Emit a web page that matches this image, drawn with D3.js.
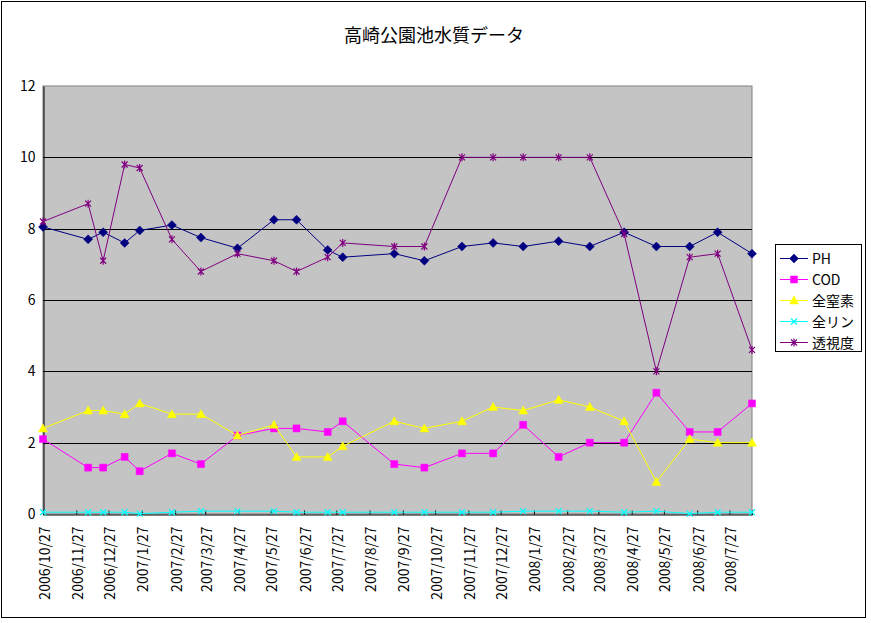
<!DOCTYPE html>
<html lang="ja">
<head>
<meta charset="UTF-8">
<title>高崎公園池水質データ</title>
<script src="https://cdnjs.cloudflare.com/ajax/libs/d3/7.8.2/d3.min.js"></script>
<style>
    body { margin: 0; background: #fff; }
    svg { display: block; }
    text { font-family: "Noto Sans CJK JP", "DejaVu Sans", sans-serif; fill: #000; }
</style>
</head>
<body>
<div id="chart"></div>
<script>
    // measurement dates
    const dates = [
        "2006/10/27", "2006/12/8", "2006/12/22", "2007/1/11", "2007/1/25", "2007/2/24",
        "2007/3/23", "2007/4/26", "2007/5/30", "2007/6/20", "2007/7/19", "2007/8/2",
        "2007/9/19", "2007/10/17", "2007/11/21", "2007/12/20", "2008/1/17", "2008/2/19",
        "2008/3/19", "2008/4/20", "2008/5/20", "2008/6/20", "2008/7/16", "2008/8/17"
    ];
    const ph    = [8.05, 7.7, 7.9, 7.6, 7.95, 8.1, 7.75, 7.45, 8.25, 8.25, 7.4, 7.2,
                   7.3, 7.1, 7.5, 7.6, 7.5, 7.65, 7.5, 7.9, 7.5, 7.5, 7.9, 7.3];
    const cod   = [2.1, 1.3, 1.3, 1.6, 1.2, 1.7, 1.4, 2.2, 2.4, 2.4, 2.3, 2.6,
                   1.4, 1.3, 1.7, 1.7, 2.5, 1.6, 2.0, 2.0, 3.4, 2.3, 2.3, 3.1];
    const tn    = [2.4, 2.9, 2.9, 2.8, 3.1, 2.8, 2.8, 2.2, 2.5, 1.6, 1.6, 1.9,
                   2.6, 2.4, 2.6, 3.0, 2.9, 3.2, 3.0, 2.6, 0.9, 2.1, 2.0, 2.0];
    const tp    = [0.05, 0.05, 0.05, 0.05, 0.01, 0.05, 0.08, 0.08, 0.08, 0.05, 0.05, 0.05,
                   0.05, 0.05, 0.05, 0.05, 0.08, 0.08, 0.08, 0.05, 0.08, 0.01, 0.05, 0.05];
    const trans = [8.2, 8.7, 7.1, 9.8, 9.7, 7.7, 6.8, 7.3, 7.1, 6.8, 7.2, 7.6,
                   7.5, 7.5, 10, 10, 10, 10, 10, 7.85, 4.0, 7.2, 7.3, 4.6];
    const yTicks = [0, 2, 4, 6, 8, 10, 12];

    const seriesNames = ["PH", "COD", "全窒素", "全リン", "透視度"];
    const seriesValues = [ph, cod, tn, tp, trans];
    const seriesColors = ["#000080", "#FF00FF", "#FFFF00", "#00FFFF", "#800080"];
    const seriesMarkers = ["diamond", "square", "triangle", "cross", "star"];

    const width = 871, height = 623;
    const plot = { left: 43, right: 752, top: 86, bottom: 514 };

    const parse = d3.timeParse("%Y/%m/%d");
    const dateObjs = dates.map(parse);

    const x = d3.scaleTime()
        .domain([dateObjs[0], dateObjs[dateObjs.length - 1]])
        .range([plot.left, plot.right]);
    const y = d3.scaleLinear().domain([0, 12]).range([plot.bottom, plot.top]);

    // monthly ticks on the 27th, starting at the first date
    const monthTicks = d3.timeMonth.every(1).range(d3.timeMonth.floor(dateObjs[0]), dateObjs[dateObjs.length - 1])
        .map(d => new Date(d.getFullYear(), d.getMonth(), 27))
        .filter(d => d >= dateObjs[0] && d <= dateObjs[dateObjs.length - 1]);
    const fmt = d => `${d.getFullYear()}/${d.getMonth() + 1}/${d.getDate()}`;

    const svg = d3.select("#chart").append("svg")
        .attr("width", width).attr("height", height);

    svg.append("rect")
        .attr("x", 1.5).attr("y", 1.5).attr("width", 864).attr("height", 616)
        .attr("fill", "#fff").attr("stroke", "#000").attr("stroke-width", 1);

    svg.append("text")
        .attr("x", 434).attr("y", 42)
        .attr("text-anchor", "middle")
        .attr("font-size", 18)
        .text("高崎公園池水質データ");

    // plot area
    svg.append("rect")
        .attr("x", plot.left).attr("y", plot.top)
        .attr("width", plot.right - plot.left).attr("height", plot.bottom - plot.top)
        .attr("fill", "#C4C4C4").attr("stroke", "#808080").attr("stroke-width", 1);

    // gridlines
    svg.append("g")
        .selectAll("line")
        .data(yTicks.filter(v => v > 0 && v < 12))
        .join("line")
        .attr("x1", plot.left).attr("x2", plot.right)
        .attr("y1", d => Math.round(y(d)) + 0.5).attr("y2", d => Math.round(y(d)) + 0.5)
        .attr("stroke", "#000").attr("stroke-width", 1);

    // y axis
    const yAxis = svg.append("g")
        .attr("transform", `translate(${plot.left + 0.5},0)`)
        .call(d3.axisLeft(y).tickValues(yTicks).tickSize(0).tickPadding(8));
    yAxis.select(".domain").attr("stroke", "#000");
    yAxis.selectAll("text")
        .attr("font-size", 14)
        .attr("font-family", "'DejaVu Sans', sans-serif")
        .attr("fill", "#000");

    // x axis
    const xAxis = svg.append("g")
        .attr("transform", `translate(0,${plot.bottom + 0.5})`)
        .call(d3.axisBottom(x).tickValues(monthTicks).tickSize(-4).tickFormat(fmt));
    xAxis.select(".domain").attr("stroke", "#000");
    xAxis.selectAll(".tick line").attr("stroke", "#000");
    xAxis.selectAll("text")
        .attr("font-size", 14)
        .attr("font-family", "'DejaVu Sans', sans-serif")
        .attr("fill", "#000")
        .attr("text-anchor", "end")
        .attr("transform", "translate(1,12) rotate(-90)")
        .attr("x", 0).attr("y", 0).attr("dy", "0.36em");

    function markerPath(type) {
        switch (type) {
            case "diamond": return "M0,-4.5L4.5,0L0,4.5L-4.5,0Z";
            case "square": return "M-3.5,-3.5H3.5V3.5H-3.5Z";
            case "triangle": return "M0,-4.5L4.5,3.5L-4.5,3.5Z";
            case "cross": return "M-3,-3L3,3M-3,3L3,-3";
            case "star": return "M-3,-3L3,3M-3,3L3,-3M0,-4V4";
        }
    }

    const line = d3.line().x(d => x(d.date)).y(d => y(d.value));

    seriesValues.forEach((vals, i) => {
        const pts = vals.map((v, j) => ({ date: dateObjs[j], value: v }));
        const g = svg.append("g");
        g.append("path")
            .datum(pts)
            .attr("d", line)
            .attr("fill", "none")
            .attr("stroke", seriesColors[i])
            .attr("stroke-width", 1);
        const filled = ["diamond", "square", "triangle"].includes(seriesMarkers[i]);
        g.selectAll("path.m")
            .data(pts)
            .join("path")
            .attr("class", "m")
            .attr("transform", d => `translate(${x(d.date)},${y(d.value)})`)
            .attr("d", markerPath(seriesMarkers[i]))
            .attr("fill", filled ? seriesColors[i] : "none")
            .attr("stroke", seriesColors[i])
            .attr("stroke-width", filled ? 0.5 : 1.2);
    });

    // legend
    const legend = svg.append("g");
    legend.append("rect")
        .attr("x", 775.5).attr("y", 244.5).attr("width", 86).attr("height", 107)
        .attr("fill", "#fff").attr("stroke", "#000");
    seriesNames.forEach((name, i) => {
        const ly = 258.5 + i * 21;
        const item = legend.append("g");
        item.append("line")
            .attr("x1", 780).attr("x2", 808).attr("y1", ly).attr("y2", ly)
            .attr("stroke", seriesColors[i]).attr("stroke-width", 1);
        const filled = ["diamond", "square", "triangle"].includes(seriesMarkers[i]);
        item.append("path")
            .attr("transform", `translate(794,${ly})`)
            .attr("d", markerPath(seriesMarkers[i]))
            .attr("fill", filled ? seriesColors[i] : "none")
            .attr("stroke", seriesColors[i])
            .attr("stroke-width", filled ? 0.5 : 1.2);
        item.append("text")
            .attr("x", 812).attr("y", ly)
            .attr("dy", "0.36em")
            .attr("font-size", 14)
            .text(name);
    });
</script>
</body>
</html>
